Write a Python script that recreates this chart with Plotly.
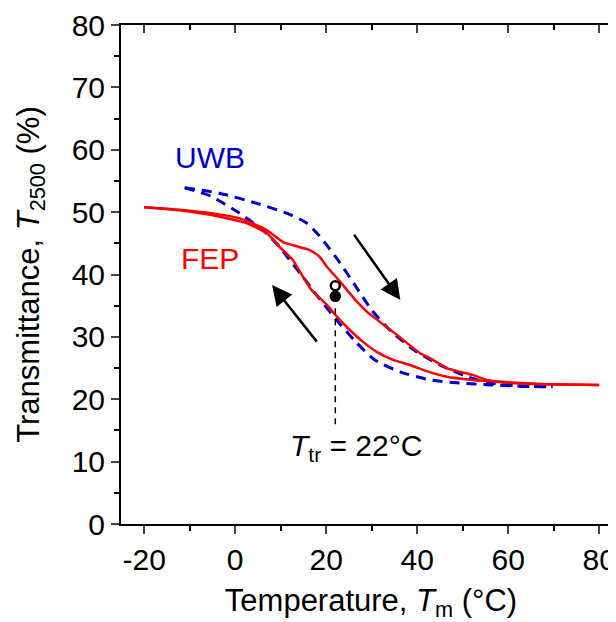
import plotly.graph_objects as go

# FEP (red) heating branch (upper) and cooling branch (lower)
fep_heat_x = [-20, -12.2, -4.9, 1.0, 7.0, 10.5, 12.7, 16.4, 18.6, 20.2, 22.4, 24.6, 26.8, 29.0, 31.8, 34.7, 37.8, 40.6, 42.8, 46.5, 52.2, 55.3, 61.0, 68.5, 80.0]
fep_heat_y = [50.8, 50.4, 49.8, 49.0, 47.1, 45.2, 44.7, 43.9, 42.8, 41.2, 39.4, 37.5, 35.6, 34.0, 32.4, 30.8, 29.0, 27.4, 26.6, 25.0, 23.9, 23.1, 22.6, 22.4, 22.3]
fep_cool_x = [-20, -12.2, -4.9, 2.6, 7.0, 9.8, 12.7, 14.9, 16.8, 20.2, 22.4, 25.2, 28.1, 31.1, 34.7, 38.4, 42.1, 46.5, 52.2, 58.1, 68.5, 80.0]
fep_cool_y = [50.8, 50.3, 49.5, 48.2, 46.6, 44.4, 42.3, 39.6, 37.5, 35.1, 33.2, 31.1, 29.2, 27.6, 26.3, 25.5, 24.5, 23.6, 23.1, 22.8, 22.4, 22.3]

# UWB (blue dashed) heating branch (upper) and cooling branch (lower)
uwb_heat_x = [-11.1, -3.3, 4.8, 11.4, 15.8, 18.5, 22.8, 26.5, 30.0, 34.4, 39.7, 45.0, 51.0, 56.0, 62.6, 69.8]
uwb_heat_y = [53.9, 53.0, 51.4, 49.8, 48.2, 46.2, 42.1, 38.1, 34.3, 30.8, 27.7, 25.5, 23.6, 22.6, 22.1, 22.0]
uwb_cool_x = [-11.1, -5.5, 1.0, 6.1, 9.8, 12.0, 14.9, 18.1, 22.3, 26.5, 30.7, 36.2, 42.8, 49.4, 56.0, 62.6, 69.8]
uwb_cool_y = [53.9, 52.6, 49.8, 47.1, 44.4, 42.3, 39.6, 36.5, 32.7, 29.2, 26.3, 24.4, 23.1, 22.6, 22.3, 22.1, 22.0]

# transition markers
ttr_x = [22, 22]
ttr_y = [38.2, 36.5]
ttr_line_y = [34.6, 15.4]

x_ticks = [-20, 0, 20, 40, 60, 80]
x_ticklabels = ["-20", "0", "20", "40", "60", "80"]
y_ticks = [0, 10, 20, 30, 40, 50, 60, 70, 80]
x_range = [-25.1, 84.8]
y_range = [0, 80]

RED = "#FF0000"
BLUE = "#0000CC"
FONT = "Arial, Liberation Sans, sans-serif"

fig = go.Figure()
fig.add_trace(go.Scatter(x=uwb_heat_x, y=uwb_heat_y, mode="lines", line=dict(color=BLUE, width=3, dash="10px,7px", shape="spline", smoothing=0.6)))
fig.add_trace(go.Scatter(x=uwb_cool_x, y=uwb_cool_y, mode="lines", line=dict(color=BLUE, width=3, dash="10px,7px", shape="spline", smoothing=0.6)))
fig.add_trace(go.Scatter(x=fep_heat_x, y=fep_heat_y, mode="lines", line=dict(color=RED, width=2.5, shape="spline", smoothing=0.5)))
fig.add_trace(go.Scatter(x=fep_cool_x, y=fep_cool_y, mode="lines", line=dict(color=RED, width=2.5, shape="spline", smoothing=0.5)))
fig.add_trace(go.Scatter(x=[ttr_x[0], ttr_x[0]], y=ttr_line_y, mode="lines", line=dict(color="black", width=1.5, dash="6px,5px")))
fig.add_trace(go.Scatter(x=ttr_x, y=ttr_y, mode="markers",
                         marker=dict(symbol=["circle-open", "circle"], size=9, color="black", line=dict(color="black", width=2.5))))

axis_common = dict(showgrid=False, zeroline=False, showline=True, linecolor="black", linewidth=2, automargin=False)

fig.update_layout(
    width=616, height=622,
    margin=dict(l=113, r=3, t=17, b=106),
    paper_bgcolor="white", plot_bgcolor="white",
    showlegend=False,
    font=dict(family=FONT, color="black"),
    xaxis=dict(**axis_common, range=x_range, tickvals=x_ticks, ticktext=x_ticklabels, ticks="outside", ticklen=8, tickwidth=2,
               tickfont=dict(size=30, family=FONT),
               minor=dict(dtick=10, tick0=-20, ticks="outside", ticklen=5, tickwidth=2, tickcolor="black"),
               title=dict(text="Temperature, <i>T</i><sub>m</sub> (°C)", font=dict(size=31, family=FONT), standoff=14)),
    xaxis2=dict(**axis_common, range=x_range, overlaying="x", side="top", anchor="y", tickvals=x_ticks,
                ticks="inside", ticklen=8, tickwidth=2, showticklabels=False,
                minor=dict(dtick=10, tick0=-20, ticks="inside", ticklen=5, tickwidth=2, tickcolor="black")),
    yaxis=dict(**axis_common, range=y_range, tickvals=y_ticks, ticks="outside", ticklen=8, tickwidth=2,
               tickfont=dict(size=30, family=FONT),
               minor=dict(dtick=5, tick0=0, ticks="outside", ticklen=5, tickwidth=2, tickcolor="black"),
               title=dict(text="Transmittance, <i>T</i><sub>2500</sub> (%)", font=dict(size=31, family=FONT), standoff=23)),
    yaxis2=dict(showgrid=False, zeroline=False, showline=False, range=y_range, overlaying="y", side="right",
                anchor="free", position=1, automargin=False, tickvals=y_ticks, ticks="inside", ticklen=8, tickwidth=2, tickcolor="black",
                showticklabels=False,
                minor=dict(dtick=5, tick0=0, ticks="inside", ticklen=5, tickwidth=2, tickcolor="black")),
)
# dummy traces to activate the mirror axes
fig.add_trace(go.Scatter(x=[None], y=[None], xaxis="x2", yaxis="y", showlegend=False, hoverinfo="skip"))
fig.add_trace(go.Scatter(x=[None], y=[None], xaxis="x", yaxis="y2", showlegend=False, hoverinfo="skip"))

# labels
fig.add_annotation(x=-5.5, y=58.8, text="UWB", showarrow=False, font=dict(size=30, color=BLUE, family=FONT))
fig.add_annotation(x=-5.5, y=42.6, text="FEP", showarrow=False, font=dict(size=30, color=RED, family=FONT))
fig.add_annotation(x=26.5, y=12.3, text="<i>T</i><sub>tr</sub> = 22°C", showarrow=False, font=dict(size=30, color="black", family=FONT))

# arrows
fig.add_annotation(x=36.3, y=35.9, ax=25.9, ay=46.6, xref="x", yref="y", axref="x", ayref="y",
                   showarrow=True, arrowhead=2, arrowsize=1.6, arrowwidth=2.5, arrowcolor="black", text="")
fig.add_annotation(x=8.1, y=38.3, ax=18.2, ay=29.0, xref="x", yref="y", axref="x", ayref="y",
                   showarrow=True, arrowhead=2, arrowsize=1.6, arrowwidth=2.5, arrowcolor="black", text="")

fig.write_html("out.html")
